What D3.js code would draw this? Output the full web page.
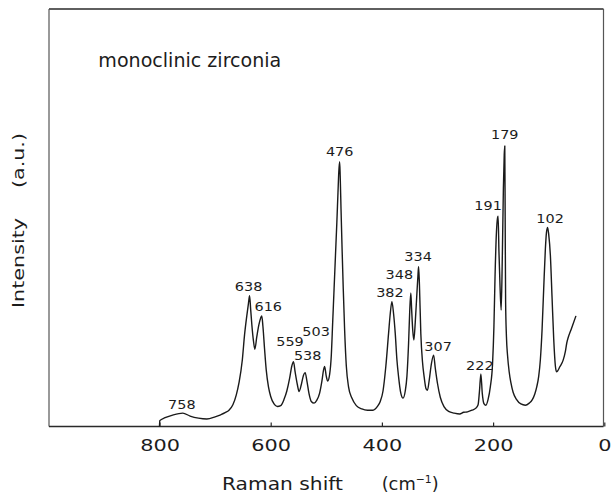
<!DOCTYPE html>
<html>
<head>
<meta charset="utf-8">
<script src="https://cdn.jsdelivr.net/npm/d3@7"></script>
<style>
  html, body { margin: 0; padding: 0; background: #fff; }
  svg { display: block; }
  text { font-family: "DejaVu Sans", "Liberation Sans", sans-serif; fill: #1c1c1c; }
</style>
</head>
<body>
<svg id="chart" width="611" height="496"></svg>
<script>
// Raman spectrum of monoclinic ZrO2, traced from high to low shift
const ramanShift = [
  800, 799.5, 790, 775, 758, 745, 730, 715, 700, 690, 682, 675, 668, 662, 657, 651, 647, 643, 640, 638,
  636, 634, 631, 628.5, 625, 621, 618, 616, 614, 611, 608, 604, 600, 594, 588, 582, 576, 571, 566,
  562, 559, 556, 552, 549, 545, 541, 538, 535, 531, 527, 522, 517, 512, 508, 505, 503, 500, 497.5,
  494, 491, 488.5, 486, 483.5, 481, 479, 477.5, 476, 475, 473.5, 471.5, 469.5, 467, 464, 460, 454,
  446, 436, 426, 416, 408, 403, 398, 393, 388, 385, 382, 379, 376, 373, 370, 366, 362, 358, 355,
  352, 350, 348, 346.5, 344.5, 342.5, 340, 337, 335, 334, 332.5, 330, 327, 324, 320.5, 318, 315,
  311, 307, 304, 300, 295, 288, 280, 270, 260, 253, 246, 238, 231, 227, 224.5, 222, 219.5, 216.5,
  213, 209, 205, 201, 198.5, 196.5, 194, 192, 191, 189.5, 187.5, 185.5, 183.5, 181.5, 180, 179,
  178.3, 177.5, 176, 174, 171, 168, 164, 158, 150, 142, 135, 130, 125, 121.5, 118, 115, 112, 109,
  106, 104, 102, 100, 97, 94, 91, 88, 86, 84, 80, 74, 70, 67.5, 64.5, 59, 51
];
const ramanIntensity = [
  0, 1.4, 2.1, 2.8, 3.2, 2.5, 2.0, 1.8, 2.3, 2.8, 3.3, 3.9, 5.2, 7.5, 10.5, 16.0, 22.0, 26.5, 29.5, 31.3,
  28.0, 24.5, 20.5, 18.5, 21.5, 24.5, 26.0, 26.5, 24.0, 18.5, 13.5, 9.5, 7.2, 5.4, 4.8, 5.0, 6.5, 8.5, 11.5,
  14.5, 15.5, 13.0, 10.0, 8.4, 10.0, 12.3, 12.9, 11.0, 7.8, 6.0, 5.6, 6.3, 8.0, 10.8, 13.5, 14.4, 12.0, 10.9,
  12.5, 17.0, 25.0, 33.0, 41.0, 49.0, 56.0, 61.0, 63.4, 60.0, 52.0, 42.0, 33.0, 23.0, 14.5, 9.5, 6.8,
  5.0, 4.2, 3.9, 3.9, 4.8, 6.0, 8.5, 14.3, 22.3, 27.0, 29.9, 27.0, 22.3, 16.0, 11.9, 8.0, 6.8, 8.5, 12.0,
  20.0, 27.5, 32.0, 28.0, 23.0, 20.7, 25.0, 32.0, 36.5, 38.3, 34.0, 22.3, 15.5, 11.9, 9.0, 8.7, 11.0,
  15.0, 17.1, 14.0, 10.3, 7.0, 4.7, 3.6, 3.2, 3.0, 3.4, 3.5, 3.9, 4.4, 5.2, 8.5, 12.6, 8.0, 5.5,
  5.1, 6.5, 9.5, 15.0, 24.0, 36.0, 46.5, 50.0, 50.4, 42.0, 33.5, 27.9, 40.0, 57.0, 65.0, 67.2,
  50.0, 30.0, 21.5, 17.0, 13.0, 10.5, 8.2, 6.5, 5.4, 5.1, 5.6, 6.3, 7.8, 9.5, 12.0, 16.0, 23.0, 33.0,
  42.5, 46.5, 47.7, 46.0, 41.0, 31.0, 21.0, 14.5, 13.1, 13.3, 14.3, 15.9, 18.0, 20.0, 21.5, 23.5, 26.5
];

// labelled bands (cm-1)
const bandLabels = [758, 638, 616, 559, 538, 503, 476, 382, 348, 334, 307, 222, 191, 179, 102];

// axis ticks
const xTickValues = [800, 600, 400, 200, 0];

const chartTitle = "monoclinic zirconia";
const xTitleMain = "Raman shift";
const yTitleMain = "Intensity";
const yTitleUnit = "(a.u.)";

// ---- layout ----
const svg = d3.select("#chart");
const frame = { left: 49, right: 603.5, top: 9, bottom: 426.5 };

const x = d3.scaleLinear().domain([1000, 0]).range([48.3, 604.3]);
const y = d3.scaleLinear().domain([0, 100]).range([frame.bottom, frame.top]);

// widen glyphs a little (the lettering is broad and round)
function stretch(sel, k) {
  sel.each(function () {
    const w = this.getComputedTextLength();
    d3.select(this).attr("textLength", w * k).attr("lengthAdjust", "spacingAndGlyphs");
  });
}

// frame
svg.append("line").attr("x1", frame.left).attr("x2", frame.right)
  .attr("y1", frame.top).attr("y2", frame.top)
  .attr("stroke", "#2a2a2a").attr("stroke-width", 1.4);
svg.append("line").attr("x1", frame.left).attr("x2", frame.left)
  .attr("y1", frame.top).attr("y2", frame.bottom)
  .attr("stroke", "#555").attr("stroke-width", 1.2);
svg.append("line").attr("x1", frame.right).attr("x2", frame.right)
  .attr("y1", frame.top).attr("y2", frame.bottom)
  .attr("stroke", "#555").attr("stroke-width", 1.2);

// bottom axis with inward ticks
const xAxis = d3.axisBottom(x)
  .tickValues(xTickValues)
  .tickFormat(d3.format("d"))
  .tickSizeInner(-4)
  .tickSizeOuter(0)
  .tickPadding(12.8);

const gx = svg.append("g")
  .attr("transform", `translate(0,${frame.bottom})`)
  .call(xAxis);
gx.select(".domain").attr("stroke", "#2a2a2a").attr("stroke-width", 1.4)
  .attr("d", `M${frame.left},0H${frame.right}`);
gx.selectAll(".tick line").attr("stroke", "#2a2a2a").attr("stroke-width", 1.2);
gx.selectAll(".tick text")
  .attr("font-family", "DejaVu Sans, sans-serif")
  .attr("font-size", 16)
  .attr("fill", "#1c1c1c");
stretch(gx.selectAll(".tick text"), 1.3);

// spectrum
const pts = ramanShift.map((s, i) => [s, ramanIntensity[i]]);
const line = d3.line()
  .x(d => x(d[0]))
  .y(d => y(d[1]))
  .curve(d3.curveMonotoneX);

svg.append("path")
  .datum(pts)
  .attr("d", line)
  .attr("fill", "none")
  .attr("stroke", "#1a1a1a")
  .attr("stroke-width", 1.4)
  .attr("stroke-linejoin", "round");

// band labels, placed above each band maximum
const labelNudge = {
  758: [-1, 1], 638: [-1, 0], 616: [6.5, 0], 559: [-3.5, -11], 538: [2.5, -8],
  503: [-8.5, -25], 476: [0, -1], 382: [-2, 0.5], 348: [-11.5, -8.5], 334: [-0.5, -1],
  307: [4.5, 0.5], 222: [-1, 1], 191: [-10, -1], 179: [0, -1.5], 102: [2.5, 1]
};
const heightAt = s => ramanIntensity[ramanShift.indexOf(s)];

const labels = svg.append("g").selectAll("text")
  .data(bandLabels)
  .join("text")
  .attr("x", d => x(d) + labelNudge[d][0])
  .attr("y", d => y(heightAt(d)) - 5 + labelNudge[d][1])
  .attr("text-anchor", "middle")
  .attr("font-size", 12)
  .text(d => d);
stretch(labels, 1.2);

// sample name
svg.append("text")
  .attr("x", 98.3).attr("y", 66.7)
  .attr("font-size", 19)
  .attr("textLength", 183).attr("lengthAdjust", "spacingAndGlyphs")
  .text(chartTitle);

// x title
svg.append("text")
  .attr("x", 222).attr("y", 490)
  .attr("font-size", 18)
  .attr("textLength", 121).attr("lengthAdjust", "spacingAndGlyphs")
  .text(xTitleMain);
const unit = svg.append("text")
  .attr("x", 381.7).attr("y", 490)
  .attr("font-size", 18)
  .attr("textLength", 57).attr("lengthAdjust", "spacingAndGlyphs");
unit.append("tspan").text("(cm");
unit.append("tspan").attr("font-size", 11).attr("dy", -7).text("\u22121");
unit.append("tspan").attr("dy", 7).text(")");

// y title
svg.append("text")
  .attr("transform", "translate(24,308) rotate(-90)")
  .attr("font-size", 15)
  .attr("textLength", 90).attr("lengthAdjust", "spacingAndGlyphs")
  .text(yTitleMain);
svg.append("text")
  .attr("transform", "translate(24,188) rotate(-90)")
  .attr("font-size", 15)
  .attr("textLength", 55).attr("lengthAdjust", "spacingAndGlyphs")
  .text(yTitleUnit);
</script>
</body>
</html>
